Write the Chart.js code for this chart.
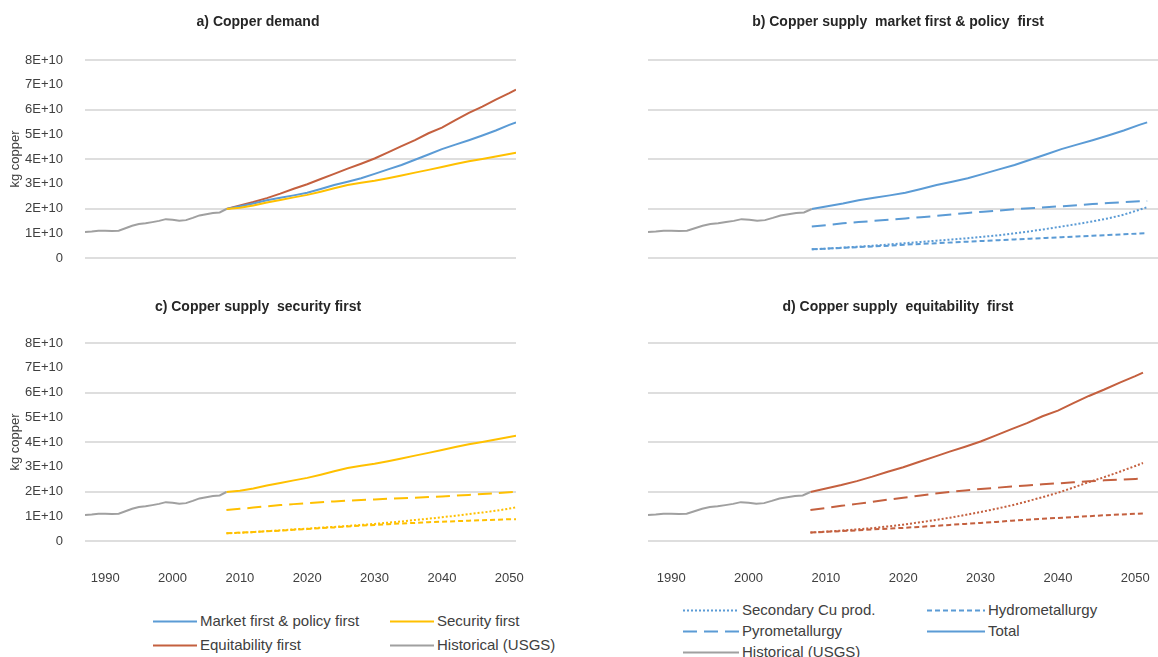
<!doctype html>
<html>
<head>
<title>Copper demand and supply</title>
<script src="https://cdn.jsdelivr.net/npm/chart.js@4.4.1/dist/chart.umd.min.js"></script>
<style>
html, body { margin: 0; padding: 0; background: #fff; overflow: hidden; }
body { width: 1158px; height: 657px; position: relative; font-family: "Liberation Sans", Arial, sans-serif; }
canvas { position: absolute; }
.leg { position: absolute; font-size: 15px; color: #404040; white-space: nowrap; line-height: 18px; }
.leg svg { position: absolute; left: 0; top: 8px; }
.leg span { position: absolute; top: 0; }
</style>
</head>
<body>

<canvas id="ca" width="600" height="290" style="left:0;top:0"></canvas>
<canvas id="cb" width="560" height="290" style="left:620px;top:0"></canvas>
<canvas id="cc" width="600" height="300" style="left:0;top:290px"></canvas>
<canvas id="cd" width="560" height="300" style="left:620px;top:290px"></canvas>

<div id="legLeft"></div>
<div id="legRight"></div>

<script>
// values in units of 1E+10 kg copper
var histYears = [1987,1988,1989,1990,1991,1992,1993,1994,1995,1996,1997,1998,1999,2000,2001,2002,2003,2004,2005,2006,2007,2008];
var historical = [1.05,1.07,1.10,1.10,1.09,1.10,1.20,1.30,1.37,1.40,1.45,1.50,1.57,1.55,1.51,1.53,1.62,1.72,1.77,1.82,1.84,1.98];

var projYears = [2008,2010,2012,2014,2016,2018,2020,2022,2024,2026,2028,2030,2032,2034,2036,2038,2040,2042,2044,2046,2048,2050,2051];

var marketTotal = [1.98,2.09,2.20,2.33,2.43,2.53,2.64,2.79,2.95,3.08,3.22,3.40,3.58,3.76,3.97,4.18,4.40,4.58,4.76,4.95,5.15,5.38,5.48];
var securityTotal = [1.98,2.03,2.12,2.24,2.34,2.45,2.55,2.68,2.82,2.95,3.04,3.12,3.22,3.33,3.45,3.56,3.68,3.80,3.91,4.00,4.10,4.20,4.25];
var equityTotal = [1.98,2.12,2.26,2.42,2.60,2.80,2.98,3.19,3.40,3.61,3.81,4.02,4.27,4.52,4.76,5.04,5.27,5.57,5.86,6.12,6.40,6.66,6.80];

var marketPyro = [1.27,1.33,1.40,1.45,1.50,1.55,1.60,1.65,1.70,1.76,1.82,1.87,1.92,1.97,2.01,2.05,2.09,2.13,2.18,2.22,2.26,2.29,2.30];
var marketHydro = [0.35,0.38,0.41,0.44,0.47,0.50,0.54,0.57,0.60,0.63,0.66,0.69,0.72,0.75,0.78,0.81,0.84,0.87,0.90,0.93,0.96,0.99,1.00];
var marketSecondary = [0.35,0.38,0.42,0.46,0.50,0.55,0.60,0.65,0.70,0.75,0.80,0.86,0.92,1.00,1.08,1.17,1.27,1.37,1.48,1.60,1.75,1.95,2.05];

var securityPyro = [1.25,1.30,1.35,1.40,1.45,1.49,1.53,1.57,1.60,1.63,1.66,1.68,1.71,1.73,1.75,1.78,1.80,1.83,1.86,1.90,1.93,1.97,1.98];
var securityHydro = [0.31,0.34,0.36,0.39,0.42,0.45,0.48,0.52,0.55,0.59,0.62,0.65,0.68,0.71,0.73,0.76,0.78,0.80,0.82,0.84,0.86,0.88,0.88];
var securitySecondary = [0.31,0.33,0.36,0.40,0.43,0.47,0.50,0.54,0.57,0.61,0.65,0.69,0.74,0.79,0.85,0.90,0.96,1.02,1.09,1.15,1.22,1.31,1.36];

var equityPyro = [1.25,1.33,1.42,1.50,1.58,1.67,1.75,1.83,1.91,1.98,2.04,2.10,2.15,2.20,2.24,2.29,2.33,2.37,2.41,2.45,2.48,2.51,2.52];
var equityHydro = [0.34,0.37,0.40,0.43,0.47,0.50,0.53,0.57,0.61,0.65,0.69,0.73,0.77,0.82,0.86,0.90,0.93,0.97,1.00,1.04,1.07,1.10,1.11];
var equitySecondary = [0.34,0.38,0.42,0.47,0.52,0.59,0.66,0.75,0.84,0.94,1.05,1.17,1.30,1.44,1.60,1.77,1.95,2.16,2.38,2.58,2.80,3.03,3.15];

var xTicks = [1990,2000,2010,2020,2030,2040,2050];
var yTicks = [0,1,2,3,4,5,6,7,8];

var BLUE = '#5B9BD5', YELLOW = '#FFC000', RED = '#C4603F', GRAY = '#A0A0A0';
var FONT = '"Liberation Sans", Arial, sans-serif';

function pts(years, vals) {
	var out = [];
	for (var i = 0; i < years.length; i++) out.push({x: years[i], y: vals[i] * 1e10});
	return out;
}

function line(label, years, vals, color, dash, width) {
	return {
		label: label,
		data: pts(years, vals),
		borderColor: color,
		backgroundColor: color,
		borderWidth: width || 2,
		borderDash: dash || [],
		pointRadius: 0,
		tension: 0,
		fill: false
	};
}

function makeChart(id, title, datasets, opt) {
	var leftCol = opt.left;
	var topRow = opt.top;
	var config = {
		type: 'line',
		data: { datasets: datasets },
		options: {
			responsive: false,
			animation: false,
			devicePixelRatio: 1,
			layout: { padding: { left: 0, right: leftCol ? 84 : 4, top: 0, bottom: 0 } },
			plugins: {
				legend: { display: false },
				tooltip: { enabled: false },
				title: {
					display: true,
					text: title,
					color: '#262626',
					font: { family: FONT, size: 14, weight: 'bold' },
					padding: topRow ? { top: 13.6, bottom: 29.6 } : { top: 8.6, bottom: 27.6 }
				}
			},
			scales: {
				x: {
					type: 'linear',
					min: 1987,
					max: leftCol ? 2051 : 2054.7,
					grid: { display: false, drawTicks: false },
					border: { display: false },
					afterBuildTicks: function(scale) {
						scale.ticks = xTicks.map(function(v) { return {value: v}; });
					},
					afterFit: function(scale) { scale.height = topRow ? 32 : 49; },
					ticks: {
						display: !topRow,
						autoSkip: false,
						maxRotation: 0,
						padding: 30,
						color: '#404040',
						font: { family: FONT, size: 13 },
						callback: function(v) { return String(v); }
					}
				},
				y: {
					min: 0,
					max: 8e10,
					afterBuildTicks: function(scale) {
						scale.ticks = yTicks.map(function(v) { return {value: v * 1e10}; });
					},
					afterFit: function(scale) { scale.width = leftCol ? 85 : 28; },
					grid: {
						drawTicks: false,
						lineWidth: 2,
						color: function(ctx) {
							return (ctx.tick && Math.round(ctx.tick.value / 1e10) % 2 === 0) ? '#DEDEDE' : 'rgba(0,0,0,0)';
						}
					},
					border: { display: false },
					title: {
						display: leftCol,
						text: 'kg copper',
						color: '#404040',
						font: { family: FONT, size: 13 },
						padding: { top: 8, bottom: 0 }
					},
					ticks: {
						display: leftCol,
						padding: 22,
						color: '#404040',
						font: { family: FONT, size: 13 },
						callback: function(v) {
							var n = Math.round(v / 1e10);
							return n === 0 ? '0' : n + 'E+10';
						}
					}
				}
			}
		}
	};
	return new Chart(document.getElementById(id), config);
}

var DOT = [2, 2], SHORT = [5, 3], LONG = [14, 7];

makeChart('ca', 'a) Copper demand', [
	line('Historical (USGS)', histYears, historical, GRAY),
	line('Security first', projYears, securityTotal, YELLOW),
	line('Market first & policy first', projYears, marketTotal, BLUE),
	line('Equitability first', projYears, equityTotal, RED)
], {left: true, top: true});

makeChart('cb', 'b) Copper supply  market first & policy  first', [
	line('Historical (USGS)', histYears, historical, GRAY),
	line('Secondary Cu prod.', projYears, marketSecondary, BLUE, DOT),
	line('Hydrometallurgy', projYears, marketHydro, BLUE, SHORT),
	line('Pyrometallurgy', projYears, marketPyro, BLUE, LONG),
	line('Total', projYears, marketTotal, BLUE)
], {left: false, top: true});

makeChart('cc', 'c) Copper supply  security first', [
	line('Historical (USGS)', histYears, historical, GRAY),
	line('Secondary Cu prod.', projYears, securitySecondary, YELLOW, DOT),
	line('Hydrometallurgy', projYears, securityHydro, YELLOW, SHORT),
	line('Pyrometallurgy', projYears, securityPyro, YELLOW, LONG),
	line('Total', projYears, securityTotal, YELLOW)
], {left: true, top: false});

makeChart('cd', 'd) Copper supply  equitability  first', [
	line('Historical (USGS)', histYears, historical, GRAY),
	line('Secondary Cu prod.', projYears, equitySecondary, RED, DOT),
	line('Hydrometallurgy', projYears, equityHydro, RED, SHORT),
	line('Pyrometallurgy', projYears, equityPyro, RED, LONG),
	line('Total', projYears, equityTotal, RED)
], {left: false, top: false});

// legends below the bottom panels
function legendItem(parent, x, y, w, label, color, dash) {
	var d = document.createElement('div');
	d.className = 'leg';
	d.style.left = x + 'px';
	d.style.top = (y - 9) + 'px';
	var svg = '<svg width="' + w + '" height="3"><line x1="0" y1="1.5" x2="' + w + '" y2="1.5" stroke="' + color +
		'" stroke-width="2"' + (dash ? ' stroke-dasharray="' + dash.join(',') + '"' : '') + '/></svg>';
	d.innerHTML = svg + '<span style="left:' + (w + 3) + 'px">' + label + '</span>';
	parent.appendChild(d);
}

var legL = document.getElementById('legLeft');
legendItem(legL, 153, 621, 44, 'Market first &amp; policy first', BLUE);
legendItem(legL, 390, 621, 44, 'Security first', YELLOW);
legendItem(legL, 153, 645, 44, 'Equitability first', RED);
legendItem(legL, 390, 645, 44, 'Historical (USGS)', GRAY);

var legR = document.getElementById('legRight');
legendItem(legR, 683, 610, 56, 'Secondary Cu prod.', BLUE, DOT);
legendItem(legR, 927, 610, 58, 'Hydrometallurgy', BLUE, SHORT);
legendItem(legR, 683, 631, 56, 'Pyrometallurgy', BLUE, LONG);
legendItem(legR, 927, 631, 58, 'Total', BLUE);
legendItem(legR, 683, 652, 56, 'Historical (USGS)', GRAY);
</script>
</body>
</html>
